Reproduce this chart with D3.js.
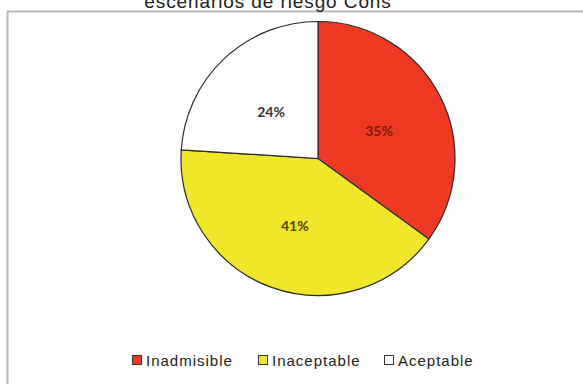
<!DOCTYPE html>
<html><head><meta charset="utf-8">
<script src="https://cdn.jsdelivr.net/npm/d3@7"></script>
<style>html,body{margin:0;padding:0;background:#fff;overflow:hidden}</style>
</head><body>
<svg id="c" width="583" height="384"></svg>
<script>
const titleText = "escenarios de riesgo Cons";
const categories = ["Inadmisible", "Inaceptable", "Aceptable"];
const values = [35, 41, 24];
const labels = ["35%", "41%", "24%"];
const colors = ["#ee3a24", "#f0e62a", "#ffffff"];
const labelColors = ["#7a1a10", "#4a4410", "#333333"];

const svg = d3.select("#c");
svg.append("rect").attr("x",7.5).attr("y",11.5).attr("width",620).attr("height",420)
  .attr("fill","#fff").attr("stroke","#b8b8b8").attr("stroke-width",2);

svg.append("text").attr("x",268).attr("y",7.5).attr("text-anchor","middle")
  .attr("font-family","Liberation Sans, Arial, sans-serif").attr("font-size",19)
  .attr("letter-spacing",0.9).attr("fill","#222").text(titleText);

const cx = 318, cy = 158.5, r = 137;
const pie = d3.pie().sort(null).value(d=>d)(values);
const arc = d3.arc().innerRadius(0).outerRadius(r);
const labelArc = d3.arc().innerRadius(r*0.5).outerRadius(r*0.5);
const g = svg.append("g").attr("transform",`translate(${cx},${cy})`);
g.selectAll("path").data(pie).join("path")
  .attr("d",arc).attr("fill",(d,i)=>colors[i]).attr("stroke","#2a2a2a").attr("stroke-width",1.2);
g.selectAll("text").data(pie).join("text")
  .attr("transform",d=>{const [x,y]=labelArc.centroid(d); return `translate(${x},${y+3})`;})
  .attr("text-anchor","middle").attr("dominant-baseline","central")
  .attr("font-family","Lato, Carlito, sans-serif").attr("font-size",14).attr("font-weight","bold")
  .attr("fill",(d,i)=>labelColors[i]).text((d,i)=>labels[i]);

const legendX = [132, 258, 384];
const lg = svg.append("g");
categories.forEach((c,i)=>{
  lg.append("rect").attr("x",legendX[i]+0.5).attr("y",355.5).attr("width",9).attr("height",9)
    .attr("fill",colors[i]).attr("stroke","#333").attr("stroke-width",1);
  lg.append("text").attr("x",legendX[i]+14).attr("y",366)
    .attr("font-family","Liberation Sans, Arial, sans-serif").attr("font-size",15)
    .attr("letter-spacing",1).attr("fill","#222").text(c);
});
</script>
</body></html>
